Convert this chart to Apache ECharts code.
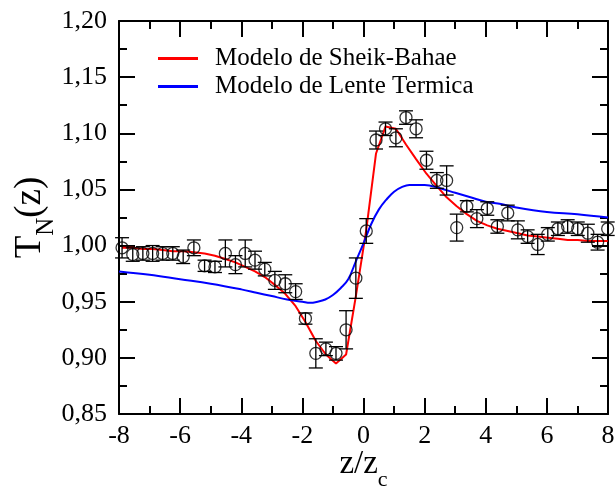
<!DOCTYPE html>
<html><head><meta charset="utf-8">
<script src="https://cdn.jsdelivr.net/npm/echarts@6/dist/echarts.min.js"></script>
<style>html,body{margin:0;padding:0;background:#fff}#c{width:616px;height:490px}</style>
</head><body><div id="c"></div>
<script>
// Experimental data
const zData = [-7.9,-7.55,-7.22,-6.9,-6.57,-6.24,-5.9,-5.55,-5.2,-4.86,-4.52,-4.19,-3.87,-3.55,-3.23,-2.9,-2.56,-2.22,-1.9,-1.56,-1.23,-0.9,-0.57,-0.25,0.09,0.41,0.72,1.06,1.39,1.72,2.06,2.4,2.72,3.05,3.38,3.71,4.05,4.38,4.72,5.05,5.37,5.7,6.03,6.36,6.68,7.01,7.34,7.66,7.99];
const tData = [0.998,0.992,0.993,0.993,0.993,0.993,0.990,0.998,0.982,0.981,0.993,0.983,0.993,0.987,0.979,0.969,0.966,0.959,0.935,0.904,0.908,0.904,0.925,0.971,1.013,1.094,1.104,1.096,1.114,1.104,1.076,1.058,1.058,1.016,1.035,1.024,1.033,1.017,1.029,1.014,1.008,1.001,1.010,1.015,1.017,1.015,1.011,1.003,1.015];
const errData = [0.009,0.006,0.006,0.007,0.006,0.006,0.006,0.007,0.005,0.005,0.012,0.008,0.012,0.008,0.006,0.008,0.008,0.007,0.005,0.013,0.006,0.006,0.017,0.018,0.011,0.008,0.006,0.008,0.006,0.008,0.008,0.007,0.013,0.012,0.005,0.008,0.006,0.006,0.007,0.008,0.006,0.009,0.006,0.006,0.006,0.006,0.008,0.007,0.006];
// Modelo de Sheik-Bahae
const sheikZ = zData;
const sheikT = [0.998,0.998,0.997,0.997,0.996,0.995,0.995,0.994,0.993,0.991,0.988,0.985,0.981,0.977,0.972,0.965,0.957,0.946,0.932,0.915,0.903,0.895,0.903,0.955,1.014,1.082,1.106,1.104,1.090,1.077,1.064,1.053,1.043,1.035,1.028,1.022,1.018,1.015,1.013,1.011,1.009,1.008,1.007,1.006,1.005,1.005,1.004,1.004,1.004];
// Modelo de Lente Termica
const lenteZ = [-8,-7,-6,-5,-4,-3.5,-3,-2.5,-2,-1.75,-1.5,-1.25,-1,-0.75,-0.5,-0.25,0,0.25,0.5,0.75,1,1.25,1.5,1.75,2,2.5,3,3.5,4,4.5,5,6,7,8];
const lenteT = [0.977,0.974,0.970,0.966,0.961,0.958,0.955,0.952,0.950,0.949,0.950,0.952,0.956,0.962,0.970,0.986,1.002,1.019,1.032,1.041,1.048,1.052,1.054,1.054,1.054,1.051,1.047,1.043,1.039,1.037,1.034,1.030,1.028,1.025];
const seriesNames = ['Modelo de Sheik-Bahae','Modelo de Lente Termica'];

const FONT = '"Liberation Serif", "DejaVu Serif", serif';
const chart = echarts.init(document.getElementById('c'), null, {renderer:'canvas'});
const axisCommon = {
  axisLine:{show:true, onZero:false, lineStyle:{color:'#000', width:2}},
  axisTick:{show:true, inside:true, length:16, lineStyle:{color:'#000', width:2}},
  minorTick:{show:true, splitNumber:2, length:8, lineStyle:{color:'#000', width:2}},
  splitLine:{show:false}, minorSplitLine:{show:false}
};
const xBase = Object.assign({type:'value', min:-8, max:8, interval:2}, axisCommon);
const yBase = Object.assign({type:'value', min:0.85, max:1.20, interval:0.05}, axisCommon);

chart.setOption({
  animation:false,
  backgroundColor:'#fff',
  grid:{left:119, right:8, top:21, bottom:76, containLabel:false, outerBoundsMode:'none'},
  legend:{
    show:true, orient:'vertical', left:158, top:46, itemGap:3, padding:0,
    itemWidth:40, itemHeight:3, icon:'rect',
    data:seriesNames,
    textStyle:{fontFamily:FONT, fontSize:25, color:'#000', lineHeight:25, padding:[0,0,0,12]}
  },
  xAxis:[
    Object.assign({}, xBase, {position:'bottom',
      axisLabel:{show:true, fontFamily:FONT, fontSize:26, color:'#000', margin:9},
      name:'{a|z/z}{b|c}', nameLocation:'middle', nameGap:34, nameMoveOverlap:false,
      nameTextStyle:{rich:{a:{fontFamily:FONT, fontSize:33, color:'#000', verticalAlign:'top'}, b:{fontFamily:FONT, fontSize:22, color:'#000', verticalAlign:'top', padding:[21,0,0,0]}}}
    }),
    Object.assign({}, xBase, {position:'top', axisLabel:{show:false}})
  ],
  yAxis:[
    Object.assign({}, yBase, {position:'left',
      axisLabel:{show:true, fontFamily:FONT, fontSize:26, color:'#000', margin:12,
        formatter:v=>v.toFixed(2).replace('.', ',')},
      name:'{a|T}{b|N}{a|(z)}', nameLocation:'middle', nameGap:60, nameMoveOverlap:false,
      nameTextStyle:{rich:{a:{fontFamily:FONT, fontSize:37, color:'#000', verticalAlign:'top'}, b:{fontFamily:FONT, fontSize:25, color:'#000', verticalAlign:'top', padding:[22,0,0,0]}}}
    }),
    Object.assign({}, yBase, {position:'right', axisLabel:{show:false}})
  ],
  series:[
    {
      name:seriesNames[0], type:'line', data:sheikZ.map((z,i)=>[z,sheikT[i]]),
      showSymbol:false, symbol:'none', smooth:false,
      lineStyle:{color:'#ff0000', width:2}, itemStyle:{color:'#ff0000'}, z:3
    },
    {
      name:seriesNames[1], type:'line', data:lenteZ.map((z,i)=>[z,lenteT[i]]),
      showSymbol:false, symbol:'none', smooth:0.4,
      lineStyle:{color:'#0000ff', width:2}, itemStyle:{color:'#0000ff'}, z:3
    },
    {
      name:'err', type:'custom',
      data:zData.map((z,i)=>[z, tData[i]-errData[i], tData[i]+errData[i]]),
      renderItem:(params, api)=>{
        const lo = api.coord([api.value(0), api.value(1)]);
        const hi = api.coord([api.value(0), api.value(2)]);
        const hw = 7;
        const st = {stroke:'#000', lineWidth:1.3, fill:null};
        return {type:'group', children:[
          {type:'line', shape:{x1:lo[0], y1:lo[1], x2:hi[0], y2:hi[1]}, style:st},
          {type:'line', shape:{x1:lo[0]-hw, y1:lo[1], x2:lo[0]+hw, y2:lo[1]}, style:st},
          {type:'line', shape:{x1:hi[0]-hw, y1:hi[1], x2:hi[0]+hw, y2:hi[1]}, style:st}
        ]};
      },
      z:4, silent:true
    },
    {
      name:'data', type:'scatter', data:zData.map((z,i)=>[z,tData[i]]),
      symbol:'circle', symbolSize:12,
      itemStyle:{color:'rgba(0,0,0,0)', borderColor:'#000', borderWidth:1.3}, z:5
    }
  ]
});
</script></body></html>
